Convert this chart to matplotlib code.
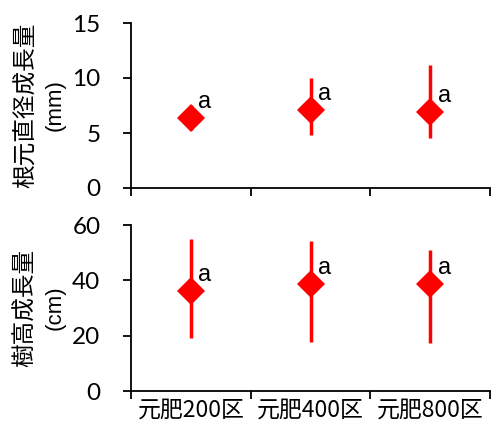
import matplotlib
matplotlib.use("Agg")
import matplotlib.pyplot as plt
import numpy as np

plt.rcParams['font.family'] = ['Noto Sans CJK JP', 'DejaVu Sans']

categories = ["元肥200区", "元肥400区", "元肥800区"]
diam_mean = [6.4, 7.1, 6.9]
diam_upper = [7.5, 10.0, 11.2]
diam_lower = [5.3, 4.8, 4.5]
diam_letters = ["a", "a", "a"]
height_mean = [36.2, 38.7, 38.6]
height_upper = [54.8, 54.2, 51.0]
height_lower = [19.0, 17.8, 17.2]
height_letters = ["a", "a", "a"]

fig = plt.figure(figsize=(4.92, 4.21), dpi=100)
ax1 = fig.add_axes([131/492, 1-188/421, (490-131)/492, (188-23)/421])
ax2 = fig.add_axes([131/492, 1-391/421, (490-131)/492, (391-225)/421])

red = '#FF0000'
x = np.arange(1, len(categories)+1)

def draw(ax, mean, up, lo, letters, ylim, yticks, label, unit):
    mean = np.array(mean); up = np.array(up); lo = np.array(lo)
    ax.errorbar(x, mean, yerr=[mean-lo, up-mean], fmt='D', color=red,
                ecolor=red, elinewidth=2.5, capsize=0, markersize=14,
                markeredgewidth=0, zorder=3)
    for xi, m, t in zip(x, mean, letters):
        ax.annotate(t, (xi, m), xytext=(5.5, 7), textcoords='offset points',
                    fontsize=17, family=['Liberation Sans'],
                    ha='left', va='baseline', color='black')
    ax.set_xlim(0.5, len(categories)+0.5)
    ax.set_ylim(*ylim)
    ax.set_yticks(yticks)
    ax.set_yticklabels([str(v) for v in yticks])
    for lab in ax.get_yticklabels():
        lab.set_fontfamily(['Lato'])
        lab.set_fontsize(17.5)
    ax.set_xticks(np.arange(0.5, len(categories)+1, 1))
    ax.set_xticklabels([])
    ax.spines['top'].set_visible(False)
    ax.spines['right'].set_visible(False)
    for s in ['left', 'bottom']:
        ax.spines[s].set_linewidth(1.3)
    ax.tick_params(axis='y', length=6, width=1.3, pad=16)
    ax.tick_params(axis='x', length=6, width=1.3)
    ax.text(-0.295, 0.5, label, transform=ax.transAxes, rotation=90,
            ha='center', va='center', fontsize=17)
    ax.text(-0.212, 0.5, unit, transform=ax.transAxes, rotation=90,
            ha='center', va='center', fontsize=16, family=['Liberation Sans'])

draw(ax1, diam_mean, diam_upper, diam_lower, diam_letters, (0, 15), [0, 5, 10, 15],
     "根元直径成長量", "(mm)")
draw(ax2, height_mean, height_upper, height_lower, height_letters, (0, 60), [0, 20, 40, 60],
     "樹高成長量", "(cm)")

for xi, c in zip(x, categories):
    ax2.text(xi, -0.045, c, transform=ax2.get_xaxis_transform(), ha='center', va='top',
             fontsize=16.5)

fig.savefig("out.png", dpi=100)
